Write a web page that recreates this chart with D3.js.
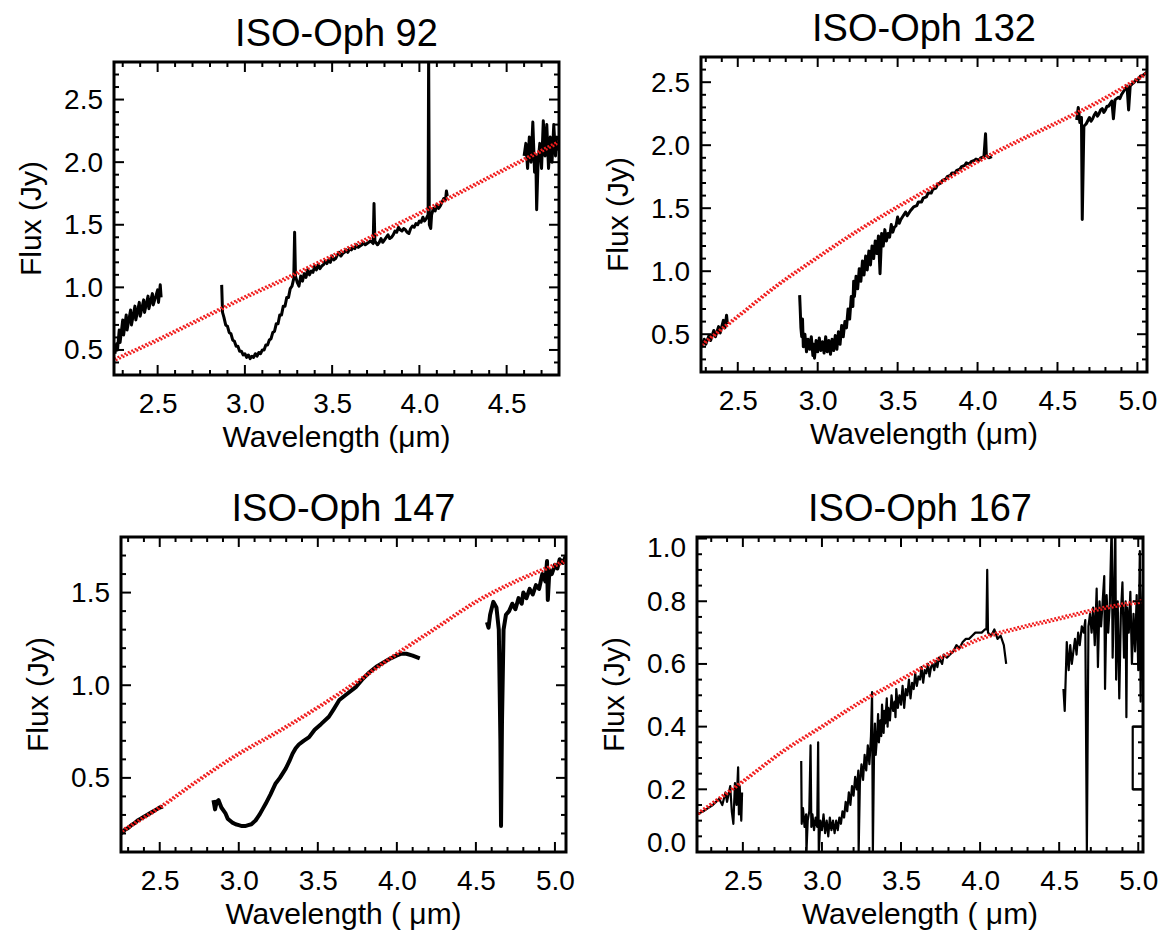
<!DOCTYPE html>
<html>
<head>
<meta charset="utf-8">
<script src="https://cdn.jsdelivr.net/npm/d3@7"></script>
<style>
body { margin: 0; background: #fff; }
text { font-family: "Liberation Sans", Arial, Helvetica, sans-serif; fill: #000; }
</style>
</head>
<body>
<script>
// spectra: [wavelength (um), flux (Jy)]
var oph92Seg1 = [[2.255,0.47],[2.265,0.55],[2.27,0.50],[2.28,0.66],[2.285,0.56],[2.30,0.74],[2.305,0.62],[2.32,0.78],[2.325,0.66],[2.345,0.82],[2.35,0.70],[2.37,0.85],[2.375,0.74],[2.395,0.88],[2.40,0.77],[2.42,0.90],[2.425,0.80],[2.445,0.93],[2.45,0.83],[2.47,0.95],[2.475,0.86],[2.50,0.98],[2.505,0.88],[2.515,1.02],[2.52,0.92]];
var oph92Seg2 = [[2.867,1.02],[2.872,0.80],[2.88,0.76],[2.89,0.70],[2.90,0.69],[2.91,0.64],[2.92,0.63],[2.93,0.58],[2.94,0.57],[2.95,0.53],[2.96,0.53],[2.97,0.49],[2.98,0.49],[2.99,0.46],[3.00,0.47],[3.01,0.44],[3.02,0.46],[3.03,0.43],[3.04,0.45],[3.05,0.44],[3.06,0.47],[3.07,0.45],[3.08,0.48],[3.09,0.47],[3.10,0.50],[3.11,0.50],[3.12,0.54],[3.13,0.54],[3.14,0.58],[3.15,0.59],[3.16,0.64],[3.17,0.65],[3.18,0.71],[3.19,0.71],[3.20,0.78],[3.21,0.78],[3.22,0.85],[3.23,0.85],[3.24,0.92],[3.25,0.92],[3.26,0.99],[3.27,1.01],[3.28,1.07],[3.285,1.44],[3.29,1.09],[3.30,1.04],[3.31,1.01],[3.32,1.09],[3.33,1.05],[3.34,1.11],[3.35,1.08],[3.36,1.14],[3.37,1.10],[3.38,1.13],[3.39,1.12],[3.40,1.17],[3.41,1.14],[3.42,1.18],[3.43,1.15],[3.44,1.17],[3.45,1.18],[3.46,1.21],[3.47,1.19],[3.48,1.22],[3.49,1.20],[3.50,1.25],[3.51,1.22],[3.52,1.23],[3.53,1.26],[3.54,1.28],[3.55,1.25],[3.56,1.27],[3.57,1.28],[3.58,1.30],[3.59,1.28],[3.60,1.31],[3.61,1.30],[3.62,1.32],[3.63,1.31],[3.64,1.34],[3.65,1.32],[3.66,1.33],[3.67,1.34],[3.68,1.36],[3.69,1.34],[3.70,1.35],[3.71,1.36],[3.72,1.37],[3.735,1.35],[3.74,1.67],[3.745,1.37],[3.76,1.34],[3.77,1.36],[3.78,1.39],[3.79,1.36],[3.80,1.38],[3.81,1.40],[3.82,1.42],[3.83,1.39],[3.84,1.40],[3.85,1.42],[3.86,1.45],[3.87,1.44],[3.88,1.48],[3.89,1.46],[3.90,1.45],[3.91,1.47],[3.92,1.46],[3.93,1.44],[3.94,1.43],[3.95,1.47],[3.96,1.49],[3.97,1.48],[3.98,1.51],[3.99,1.50],[4.00,1.53],[4.01,1.52],[4.02,1.56],[4.03,1.53],[4.04,1.55],[4.05,1.58],[4.053,2.9],[4.057,1.50],[4.065,1.47],[4.07,1.58],[4.08,1.63],[4.09,1.61],[4.10,1.66],[4.11,1.63],[4.12,1.65],[4.13,1.68],[4.14,1.71],[4.15,1.70],[4.155,1.77],[4.16,1.73]];
var oph92Seg3 = [[4.60,2.05],[4.61,2.15],[4.62,1.95],[4.63,2.20],[4.64,2.00],[4.65,2.32],[4.66,1.92],[4.667,2.05],[4.672,1.62],[4.68,2.00],[4.69,2.15],[4.70,1.95],[4.71,2.33],[4.72,2.05],[4.73,2.30],[4.74,1.95],[4.75,2.20],[4.76,2.00],[4.77,2.30],[4.78,2.05],[4.79,2.20],[4.80,2.10]];
var oph92Model = [[2.25,0.42],[2.5,0.58],[2.75,0.75],[3.0,0.92],[3.25,1.08],[3.5,1.25],[3.75,1.42],[4.0,1.59],[4.25,1.77],[4.5,1.95],[4.8,2.16]];

var oph132Seg1 = [[2.27,0.40],[2.29,0.46],[2.30,0.42],[2.32,0.49],[2.33,0.45],[2.35,0.53],[2.36,0.48],[2.38,0.56],[2.39,0.51],[2.41,0.61],[2.42,0.55],[2.43,0.65],[2.435,0.58]];
var oph132Seg2 = [[2.887,0.81],[2.89,0.72],[2.895,0.55],[2.90,0.48],[2.905,0.62],[2.91,0.40],[2.92,0.50],[2.93,0.36],[2.94,0.46],[2.95,0.38],[2.96,0.48],[2.97,0.33],[2.975,0.42],[2.98,0.31],[2.99,0.45],[3.00,0.36],[3.01,0.47],[3.02,0.37],[3.03,0.44],[3.04,0.35],[3.05,0.48],[3.06,0.36],[3.07,0.45],[3.08,0.34],[3.09,0.46],[3.10,0.37],[3.11,0.49],[3.12,0.38],[3.13,0.52],[3.14,0.42],[3.15,0.57],[3.16,0.48],[3.17,0.60],[3.18,0.55],[3.19,0.70],[3.20,0.62],[3.21,0.80],[3.22,0.72],[3.225,0.92],[3.23,0.80],[3.24,0.96],[3.25,0.86],[3.26,1.02],[3.27,0.92],[3.28,1.08],[3.29,0.97],[3.30,1.12],[3.31,1.01],[3.32,1.16],[3.33,1.05],[3.34,1.20],[3.35,1.10],[3.36,1.24],[3.37,1.14],[3.38,1.28],[3.39,0.98],[3.40,1.30],[3.41,1.20],[3.42,1.33],[3.43,1.24],[3.44,1.30],[3.45,1.27],[3.46,1.37],[3.47,1.31],[3.48,1.35],[3.49,1.36],[3.50,1.43],[3.51,1.38],[3.52,1.41],[3.54,1.45],[3.55,1.47],[3.56,1.44],[3.58,1.48],[3.60,1.51],[3.62,1.52],[3.63,1.55],[3.65,1.55],[3.66,1.58],[3.68,1.59],[3.69,1.62],[3.71,1.62],[3.72,1.65],[3.74,1.66],[3.75,1.69],[3.77,1.70],[3.78,1.72],[3.80,1.73],[3.81,1.75],[3.83,1.76],[3.84,1.78],[3.86,1.78],[3.87,1.80],[3.89,1.81],[3.90,1.83],[3.92,1.84],[3.93,1.86],[3.95,1.85],[3.96,1.87],[3.98,1.88],[3.99,1.89],[4.01,1.88],[4.02,1.90],[4.04,1.91],[4.05,2.09],[4.055,1.92],[4.07,1.90],[4.09,1.91]];
var oph132Seg3 = [[4.62,2.20],[4.63,2.30],[4.64,2.18],[4.65,2.22],[4.655,1.41],[4.665,2.15],[4.68,2.17],[4.70,2.22],[4.71,2.19],[4.72,2.21],[4.73,2.24],[4.74,2.26],[4.75,2.23],[4.76,2.25],[4.77,2.28],[4.78,2.29],[4.79,2.26],[4.80,2.28],[4.81,2.31],[4.82,2.31],[4.83,2.33],[4.84,2.35],[4.85,2.21],[4.86,2.36],[4.87,2.37],[4.88,2.38],[4.89,2.37],[4.90,2.40],[4.91,2.42],[4.92,2.44],[4.935,2.47],[4.945,2.28],[4.955,2.47],[4.97,2.49],[4.98,2.50],[4.99,2.52],[5.00,2.51],[5.01,2.53],[5.02,2.55],[5.03,2.55],[5.04,2.56],[5.05,2.57],[5.06,2.58]];
var oph132Model = [[2.27,0.41],[2.5,0.64],[2.75,0.89],[3.0,1.11],[3.25,1.32],[3.5,1.51],[3.75,1.69],[4.0,1.87],[4.25,2.03],[4.5,2.18],[4.75,2.34],[5.06,2.57]];

var oph147Seg1 = [[2.255,0.20],[2.28,0.22],[2.30,0.23],[2.32,0.245],[2.34,0.255],[2.36,0.27],[2.38,0.28],[2.40,0.29],[2.42,0.30],[2.44,0.31],[2.46,0.32],[2.48,0.33],[2.50,0.34],[2.52,0.345]];
var oph147Seg2 = [[2.84,0.38],[2.85,0.33],[2.86,0.37],[2.872,0.38],[2.89,0.34],[2.915,0.31],[2.93,0.28],[2.957,0.26],[2.98,0.25],[3.00,0.245],[3.02,0.24],[3.04,0.24],[3.06,0.245],[3.08,0.25],[3.106,0.27],[3.13,0.30],[3.15,0.33],[3.17,0.36],[3.20,0.41],[3.233,0.47],[3.26,0.50],[3.297,0.55],[3.32,0.59],[3.34,0.63],[3.36,0.66],[3.38,0.68],[3.41,0.70],[3.445,0.72],[3.48,0.76],[3.52,0.79],[3.57,0.83],[3.60,0.87],[3.636,0.92],[3.68,0.95],[3.74,0.99],[3.78,1.03],[3.827,1.07],[3.87,1.10],[3.91,1.12],[3.95,1.14],[3.997,1.16],[4.03,1.17],[4.06,1.17],[4.10,1.16],[4.145,1.145]];
var oph147Seg3 = [[4.57,1.34],[4.58,1.31],[4.59,1.38],[4.61,1.45],[4.63,1.42],[4.645,1.30],[4.655,0.70],[4.659,0.24],[4.665,0.80],[4.675,1.30],[4.69,1.38],[4.71,1.40],[4.73,1.44],[4.75,1.41],[4.77,1.47],[4.79,1.44],[4.80,1.50],[4.82,1.47],[4.84,1.52],[4.86,1.49],[4.88,1.54],[4.90,1.52],[4.92,1.60],[4.94,1.56],[4.95,1.67],[4.955,1.46],[4.965,1.62],[4.98,1.60],[5.00,1.65],[5.015,1.63],[5.03,1.68],[5.05,1.66],[5.07,1.70]];
var oph147Model = [[2.255,0.21],[2.5,0.34],[2.75,0.49],[3.0,0.63],[3.25,0.75],[3.5,0.88],[3.75,1.02],[4.0,1.17],[4.25,1.31],[4.5,1.45],[4.75,1.56],[5.07,1.67]];

var oph167Seg1 = [[2.21,0.12],[2.25,0.13],[2.28,0.14],[2.31,0.15],[2.33,0.16],[2.35,0.17],[2.37,0.15],[2.39,0.19],[2.40,0.16],[2.42,0.21],[2.43,0.13],[2.44,0.09],[2.45,0.22],[2.46,0.15],[2.47,0.27],[2.475,0.12],[2.48,0.21],[2.49,0.10],[2.495,0.19]];
var oph167Seg2 = [[2.869,0.29],[2.872,0.09],[2.88,0.14],[2.89,0.08],[2.90,0.12],[2.902,0.0],[2.91,0.10],[2.92,0.13],[2.928,0.34],[2.933,0.08],[2.94,0.12],[2.95,0.07],[2.96,0.11],[2.97,0.08],[2.976,0.35],[2.98,0.0],[2.99,0.10],[3.00,0.07],[3.01,0.12],[3.02,0.06],[3.03,0.10],[3.04,0.05],[3.05,0.11],[3.06,0.07],[3.07,0.10],[3.08,0.06],[3.09,0.10],[3.10,0.07],[3.11,0.11],[3.12,0.09],[3.13,0.13],[3.14,0.11],[3.15,0.16],[3.16,0.13],[3.17,0.19],[3.18,0.15],[3.19,0.21],[3.20,0.18],[3.21,0.24],[3.22,0.20],[3.23,0.26],[3.232,0.0],[3.24,0.22],[3.25,0.28],[3.26,0.23],[3.27,0.31],[3.28,0.26],[3.29,0.34],[3.30,0.28],[3.31,0.37],[3.317,0.51],[3.322,0.0],[3.33,0.35],[3.335,0.41],[3.34,0.31],[3.35,0.38],[3.355,0.44],[3.36,0.35],[3.37,0.42],[3.375,0.37],[3.38,0.47],[3.39,0.38],[3.395,0.45],[3.40,0.41],[3.41,0.49],[3.415,0.40],[3.42,0.46],[3.43,0.42],[3.44,0.50],[3.45,0.45],[3.46,0.48],[3.465,0.43],[3.47,0.52],[3.48,0.46],[3.49,0.50],[3.50,0.47],[3.51,0.53],[3.52,0.46],[3.53,0.52],[3.54,0.50],[3.55,0.55],[3.56,0.49],[3.57,0.54],[3.58,0.52],[3.59,0.57],[3.60,0.53],[3.61,0.56],[3.62,0.55],[3.63,0.59],[3.64,0.54],[3.65,0.58],[3.66,0.57],[3.67,0.60],[3.68,0.56],[3.69,0.59],[3.70,0.60],[3.71,0.58],[3.72,0.61],[3.73,0.59],[3.74,0.62],[3.76,0.60],[3.77,0.63],[3.79,0.62],[3.81,0.63],[3.83,0.64],[3.85,0.66],[3.87,0.65],[3.89,0.67],[3.91,0.68],[3.93,0.68],[3.95,0.69],[3.97,0.70],[3.99,0.70],[4.01,0.70],[4.03,0.71],[4.04,0.71],[4.045,0.90],[4.05,0.70],[4.07,0.69],[4.09,0.71],[4.11,0.68],[4.13,0.69],[4.15,0.66],[4.16,0.62],[4.165,0.60]];
var oph167Seg3 = [[4.527,0.52],[4.535,0.45],[4.548,0.67],[4.56,0.58],[4.57,0.66],[4.58,0.60],[4.59,0.64],[4.60,0.68],[4.61,0.63],[4.62,0.70],[4.63,0.66],[4.643,0.72],[4.655,0.70],[4.665,0.74],[4.675,0.005],[4.685,0.72],[4.695,0.76],[4.705,0.70],[4.715,0.78],[4.725,0.66],[4.737,0.84],[4.745,0.59],[4.755,0.80],[4.765,0.72],[4.785,0.88],[4.79,0.52],[4.80,0.82],[4.81,0.70],[4.82,0.79],[4.832,1.05],[4.838,0.62],[4.845,0.78],[4.855,1.05],[4.86,0.55],[4.87,0.80],[4.88,0.49],[4.89,0.76],[4.90,0.86],[4.91,0.62],[4.92,0.80],[4.925,0.43],[4.93,0.78],[4.94,0.70],[4.95,0.83],[4.96,0.60],[4.97,0.76],[4.98,0.64],[4.99,0.82],[5.00,0.58],[5.01,0.96],[5.015,0.48],[5.02,0.75],[5.03,0.85]];
var oph167Seg4 = [[5.03,0.40],[4.965,0.40],[4.965,0.20],[5.03,0.20]];
var oph167Model = [[2.21,0.12],[2.5,0.225],[2.75,0.32],[3.0,0.40],[3.25,0.48],[3.5,0.55],[3.75,0.62],[4.0,0.68],[4.25,0.715],[4.5,0.745],[4.75,0.775],[5.03,0.80]];

var titles = ["ISO-Oph 92", "ISO-Oph 132", "ISO-Oph 147", "ISO-Oph 167"];
var xTicks = [2.5, 3.0, 3.5, 4.0, 4.5, 5.0];
var yTicksA = [0.5, 1.0, 1.5, 2.0, 2.5];
var yTicksB = [0.5, 1.0, 1.5];
var yTicksC = [0.0, 0.2, 0.4, 0.6, 0.8, 1.0];

var w = 1165,
    h = 930;

var panels = [
    { title: titles[0], box: [114, 62, 559, 375], xDomain: [2.25, 4.8], yDomain: [0.3, 2.8], lw: 3,
      segs: [oph92Seg1, oph92Seg2, oph92Seg3], model: oph92Model, yTicks: yTicksA, yMinor: 0.1, xLabel: "Wavelength (\u03bcm)" },
    { title: titles[1], box: [701, 57, 1147, 372], xDomain: [2.27, 5.06], yDomain: [0.2, 2.7], lw: 3,
      segs: [oph132Seg1, oph132Seg2, oph132Seg3], model: oph132Model, yTicks: yTicksA, yMinor: 0.1, xLabel: "Wavelength (\u03bcm)" },
    { title: titles[2], box: [121, 537, 566, 852], xDomain: [2.255, 5.07], yDomain: [0.1, 1.8], lw: 4,
      segs: [oph147Seg1, oph147Seg2, oph147Seg3], model: oph147Model, yTicks: yTicksB, yMinor: 0.1, xLabel: "Wavelength ( \u03bcm)" },
    { title: titles[3], box: [697, 537, 1143, 852], xDomain: [2.21, 5.03], yDomain: [0.0, 1.005], lw: 2.2,
      segs: [oph167Seg1, oph167Seg2, oph167Seg3, oph167Seg4], model: oph167Model, yTicks: yTicksC, yMinor: 0.05, xLabel: "Wavelength ( \u03bcm)" }
];

var svg = d3.select("body")
    .append("svg")
    .attr("width", w)
    .attr("height", h);

function stepTicks(domain, step) {
    var a = Math.ceil(domain[0] / step - 1e-6),
        b = Math.floor(domain[1] / step + 1e-6);
    return d3.range(a, b + 1).map(function(k) { return +(k * step).toFixed(3); });
}

function isMajor(v, list) {
    return list.some(function(m) { return Math.abs(m - v) < 1e-6; });
}

function drawPanel(p, i) {
    var left = p.box[0], top = p.box[1], right = p.box[2], bottom = p.box[3];
    var x = d3.scaleLinear().domain(p.xDomain).range([left, right]);
    var y = d3.scaleLinear().domain(p.yDomain).range([bottom, top]);
    var g = svg.append("g");

    g.append("clipPath")
        .attr("id", "clip" + i)
        .append("rect")
        .attr("x", left).attr("y", top)
        .attr("width", right - left).attr("height", bottom - top);

    var plot = g.append("g").attr("clip-path", "url(#clip" + i + ")");

    var specLine = d3.line()
        .x(function(d) { return x(d[0]); })
        .y(function(d) { return y(d[1]); });

    var modelLine = d3.line()
        .curve(d3.curveMonotoneX)
        .x(function(d) { return x(d[0]); })
        .y(function(d) { return y(d[1]); });

    plot.selectAll(".spec")
        .data(p.segs)
        .enter()
        .append("path")
        .attr("class", "spec")
        .attr("d", specLine)
        .attr("fill", "none")
        .attr("stroke", "#000")
        .attr("stroke-width", p.lw)
        .attr("stroke-linejoin", "round");

    // red dotted model, drawn as two offset dotted rows
    [-1.1, 1.1].forEach(function(off, j) {
        plot.append("path")
            .datum(p.model)
            .attr("d", modelLine)
            .attr("transform", "translate(0," + off + ")")
            .attr("fill", "none")
            .attr("stroke", "#f01c1c")
            .attr("stroke-width", 2.2)
            .attr("stroke-dasharray", "2,1.8")
            .attr("stroke-dashoffset", j * 1.9);
    });

    // ticks on all four sides, pointing inward
    var xt = stepTicks(p.xDomain, 0.1).map(function(v) { return { v: v, len: isMajor(v, xTicks) ? 10 : 5 }; }),
        yt = stepTicks(p.yDomain, p.yMinor).map(function(v) { return { v: v, len: isMajor(v, p.yTicks) ? 10 : 5 }; });

    var tickG = g.append("g").attr("stroke", "#000").attr("stroke-width", 2);
    tickG.selectAll(".tb").data(xt).enter().append("line")
        .attr("x1", function(d) { return x(d.v); }).attr("x2", function(d) { return x(d.v); })
        .attr("y1", bottom).attr("y2", function(d) { return bottom - d.len; });
    tickG.selectAll(".tt").data(xt).enter().append("line")
        .attr("x1", function(d) { return x(d.v); }).attr("x2", function(d) { return x(d.v); })
        .attr("y1", top).attr("y2", function(d) { return top + d.len; });
    tickG.selectAll(".tl").data(yt).enter().append("line")
        .attr("y1", function(d) { return y(d.v); }).attr("y2", function(d) { return y(d.v); })
        .attr("x1", left).attr("x2", function(d) { return left + d.len; });
    tickG.selectAll(".tr").data(yt).enter().append("line")
        .attr("y1", function(d) { return y(d.v); }).attr("y2", function(d) { return y(d.v); })
        .attr("x1", right).attr("x2", function(d) { return right - d.len; });

    // tick labels through d3 axes
    var xAxis = g.append("g").attr("transform", "translate(0," + bottom + ")")
        .call(d3.axisBottom(x).tickValues(xTicks.filter(function(v) { return v <= p.xDomain[1]; }))
            .tickSize(0).tickPadding(18).tickFormat(d3.format(".1f")));
    var yAxis = g.append("g").attr("transform", "translate(" + left + ",0)")
        .call(d3.axisLeft(y).tickValues(p.yTicks).tickSize(0).tickPadding(11).tickFormat(d3.format(".1f")));
    [xAxis, yAxis].forEach(function(a) {
        a.select(".domain").remove();
        a.selectAll("text").attr("font-size", 28).attr("fill", "#000");
    });
    // keep the end labels inside the frame height
    yAxis.selectAll("text").attr("y", function(d) {
        var py = y(d),
            c = Math.max(top + 11, Math.min(bottom - 9, py));
        return c - py;
    });

    g.append("rect")
        .attr("x", left).attr("y", top)
        .attr("width", right - left).attr("height", bottom - top)
        .attr("fill", "none")
        .attr("stroke", "#000")
        .attr("stroke-width", 3);

    g.append("text")
        .attr("x", (left + right) / 2)
        .attr("y", top - 16)
        .attr("text-anchor", "middle")
        .attr("font-size", 38)
        .text(p.title);

    g.append("text")
        .attr("x", (left + right) / 2)
        .attr("y", bottom + 72)
        .attr("text-anchor", "middle")
        .attr("font-size", 30)
        .text(p.xLabel);

    g.append("text")
        .attr("transform", "translate(" + (left - 73) + "," + ((top + bottom) / 2) + ") rotate(-90)")
        .attr("text-anchor", "middle")
        .attr("font-size", 30)
        .text("Flux (Jy)");
}

panels.forEach(drawPanel);
</script>
</body>
</html>
